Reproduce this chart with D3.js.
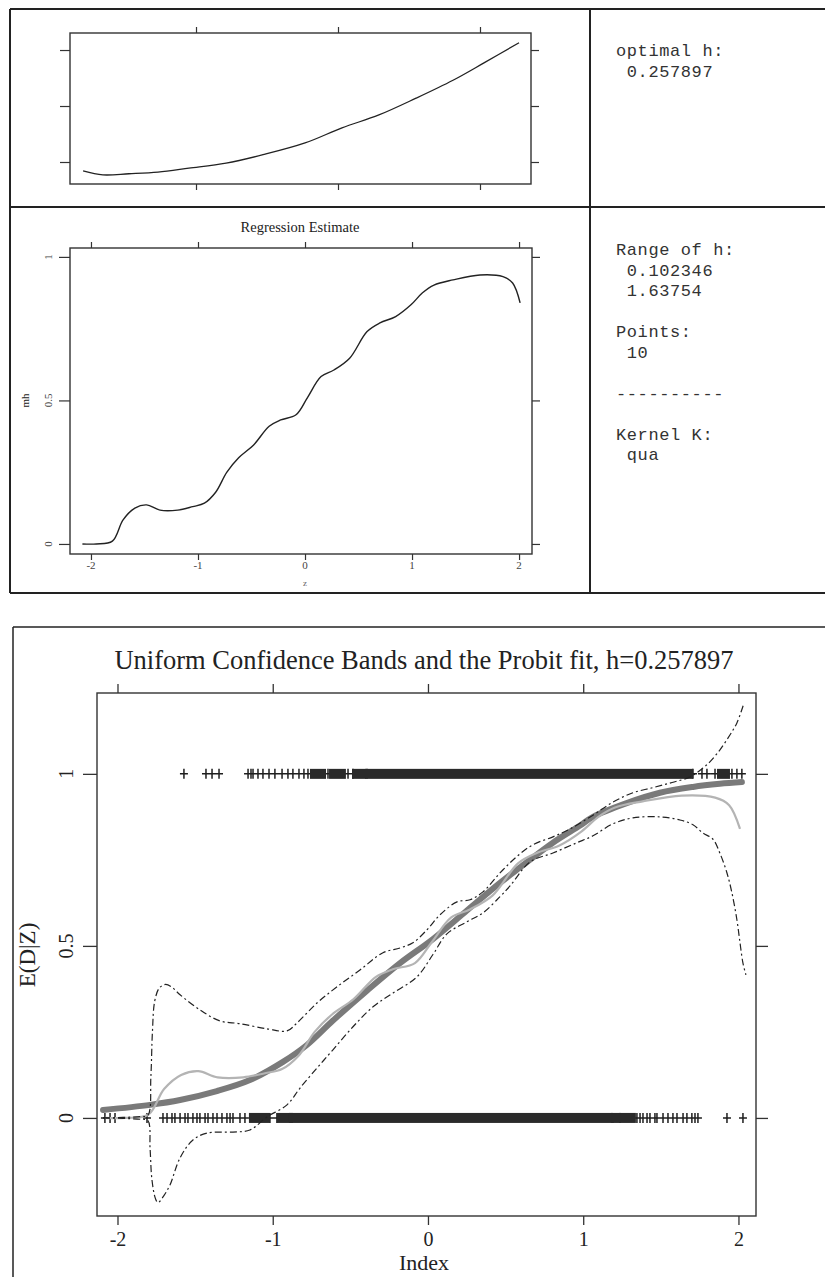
<!DOCTYPE html>
<html>
<head>
<meta charset="utf-8">
<script src="https://cdn.jsdelivr.net/npm/d3@7"></script>
<style>
  body { margin: 0; background: #fff; }
  svg { display: block; }
</style>
</head>
<body>
<svg></svg>
<script>
// ---- data ----
// top panel: cross-validation criterion over bandwidth h (no labels shown)
const cvH   = [0.102346, 0.172, 0.264, 0.366, 0.475, 0.606, 0.736, 0.884, 1.014, 1.144, 1.275, 1.405, 1.514, 1.63754];
const cvVal = [0.1584, 0.1577, 0.1579, 0.1582, 0.1589, 0.1598, 0.1613, 0.1634, 0.1661, 0.1684, 0.1714, 0.1746, 0.1777, 0.1813];
const hTicks  = [0.5, 1, 1.5];
const cvTicks = [0.16, 0.17, 0.18];

// nonparametric regression estimate mh(z)
const mhZ   = [-2.08, -1.95, -1.80, -1.70, -1.59, -1.48, -1.355, -1.19, -1.05, -0.94, -0.835, -0.73, -0.62, -0.48, -0.335, -0.227, -0.084, 0.023, 0.15, 0.27, 0.417, 0.58, 0.70, 0.847, 0.99, 1.098, 1.205, 1.383, 1.635, 1.85, 1.94, 2.01];
const mhVal = [0, 0, 0.01, 0.084, 0.125, 0.136, 0.118, 0.118, 0.13, 0.142, 0.18, 0.25, 0.30, 0.345, 0.41, 0.432, 0.45, 0.51, 0.583, 0.606, 0.647, 0.74, 0.77, 0.792, 0.833, 0.875, 0.902, 0.92, 0.937, 0.931, 0.909, 0.84];

// probit fit
const probitZ   = [-2.093, -1.79, -1.597, -1.36, -1.147, -0.934, -0.78, -0.612, -0.393, -0.18, 0.032, 0.251, 0.464, 0.593, 0.805, 0.98, 1.063, 1.28, 1.494, 1.707, 1.88, 2.022];
const probitVal = [0.023, 0.038, 0.052, 0.078, 0.11, 0.163, 0.212, 0.283, 0.37, 0.45, 0.52, 0.603, 0.683, 0.728, 0.80, 0.85, 0.875, 0.915, 0.945, 0.962, 0.971, 0.976];

// uniform confidence bands
const upperZ   = [-2.093, -1.85, -1.804, -1.785, -1.775, -1.76, -1.73, -1.69, -1.65, -1.597, -1.469, -1.34, -1.211, -1.037, -0.908, -0.844, -0.715, -0.586, -0.438, -0.29, -0.18, -0.097, -0.006, 0.077, 0.187, 0.271, 0.354, 0.464, 0.573, 0.676, 0.805, 0.915, 1.063, 1.192, 1.32, 1.449, 1.573, 1.688, 1.771, 1.816, 1.881, 1.945, 1.99, 2.03];
const upperVal = [0.0, 0.004, 0.008, 0.12, 0.25, 0.34, 0.378, 0.388, 0.38, 0.358, 0.314, 0.282, 0.274, 0.259, 0.253, 0.276, 0.334, 0.381, 0.43, 0.48, 0.494, 0.509, 0.547, 0.59, 0.628, 0.634, 0.657, 0.712, 0.76, 0.794, 0.817, 0.84, 0.88, 0.918, 0.945, 0.96, 0.975, 0.991, 1.017, 1.035, 1.07, 1.113, 1.148, 1.198];
const lowerZ   = [-2.093, -1.85, -1.804, -1.79, -1.778, -1.755, -1.739, -1.70, -1.662, -1.597, -1.514, -1.424, -1.256, -1.147, -1.037, -0.908, -0.824, -0.715, -0.612, -0.483, -0.354, -0.225, -0.071, 0.032, 0.122, 0.251, 0.354, 0.464, 0.53, 0.657, 0.805, 0.96, 1.063, 1.192, 1.32, 1.494, 1.623, 1.707, 1.771, 1.836, 1.88, 1.926, 1.958, 1.99, 2.01, 2.029, 2.048];
const lowerVal = [0.0, -0.004, -0.008, -0.09, -0.18, -0.235, -0.246, -0.225, -0.195, -0.116, -0.064, -0.044, -0.041, -0.035, 0.003, 0.038, 0.087, 0.145, 0.198, 0.265, 0.323, 0.363, 0.41, 0.475, 0.535, 0.57, 0.596, 0.643, 0.675, 0.744, 0.77, 0.80, 0.82, 0.855, 0.872, 0.875, 0.866, 0.852, 0.828, 0.81, 0.77, 0.712, 0.654, 0.576, 0.509, 0.45, 0.416];

// observed responses D (index values); dense runs given as [from, to]
const onesSparse  = [-1.572, -1.430, -1.391, -1.346, -1.159, -1.140, -1.127, -1.095, -1.063, -1.024, -0.986, -0.940, -0.902, -0.870, -0.831, -0.799, -0.773, -0.644, -0.515, -0.483, -0.393, 1.707, 1.765, 1.797, 1.849, 1.958, 1.990, 2.022];
const onesDense   = [[-0.741, -0.676], [-0.618, -0.548], [-0.470, -0.419], [-0.386, 1.688], [1.881, 1.926]];
const zerosSparse = [-2.081, -2.048, -2.016, -1.810, -1.707, -1.681, -1.649, -1.630, -1.597, -1.565, -1.546, -1.514, -1.488, -1.469, -1.436, -1.417, -1.385, -1.359, -1.327, -1.295, -1.275, -1.256, -1.211, -1.179, -1.018, -0.973, 1.192, 1.346, 1.366, 1.385, 1.411, 1.430, 1.462, 1.475, 1.514, 1.546, 1.578, 1.604, 1.643, 1.668, 1.700, 1.720, 1.739, 1.926, 2.029];
const zerosDense  = [[-1.134, -1.037], [-0.953, -0.889], [-0.876, 1.172], [1.198, 1.224], [1.250, 1.320]];

const indexTicks = [-2, -1, 0, 1, 2];
const probTicks  = [0, 0.5, 1];

const infoTop = ["optimal h:", " 0.257897"];
const infoMid = ["Range of h:", " 0.102346", " 1.63754", "", "Points:", " 10", "", "----------", "", "Kernel K:", " qua"];

const mainTitle = "Uniform Confidence Bands and the Probit fit, h=0.257897";

// ---- drawing ----
const width = 825, height = 1277;
const svg = d3.select("svg").attr("width", width).attr("height", height);
const ink = "#222";
const serif = "'Liberation Serif', 'Times New Roman', serif";
const mono = "'Liberation Mono', 'Courier New', monospace";

const pairs = (xs, ys) => xs.map((x, i) => [x, ys[i]]);

// panel frames
const frames = svg.append("g").attr("stroke", ink).attr("stroke-width", 2).attr("fill", "none");
frames.append("line").attr("x1", 10).attr("x2", width).attr("y1", 9).attr("y2", 9);
frames.append("line").attr("x1", 10).attr("x2", width).attr("y1", 207).attr("y2", 207);
frames.append("line").attr("x1", 10).attr("x2", width).attr("y1", 593).attr("y2", 593);
frames.append("line").attr("x1", 10).attr("x2", 10).attr("y1", 9).attr("y2", 593);
frames.append("line").attr("x1", 590).attr("x2", 590).attr("y1", 9).attr("y2", 593);
frames.append("line").attr("x1", 13).attr("x2", width).attr("y1", 627).attr("y2", 627).attr("stroke-width", 1.5);
frames.append("line").attr("x1", 13).attr("x2", 13).attr("y1", 627).attr("y2", height).attr("stroke-width", 1.5);

function box(g, x, y) {
  const [x0, x1] = x.range(), [y0, y1] = y.range();
  g.append("rect")
    .attr("x", x0).attr("y", y1).attr("width", x1 - x0).attr("height", y0 - y1)
    .attr("fill", "none").attr("stroke", "#333").attr("stroke-width", 1.4);
}

function plainAxes(g, x, y, xt, yt, len) {
  const [x0, x1] = x.range(), [y0, y1] = y.range();
  const ax = [
    [d3.axisBottom(x).tickValues(xt), y0],
    [d3.axisTop(x).tickValues(xt), y1]
  ];
  ax.forEach(([a, pos]) => {
    const s = g.append("g").attr("transform", `translate(0,${pos})`)
      .call(a.tickSize(len.x).tickFormat(""));
    s.select(".domain").remove();
  });
  const ay = [
    [d3.axisLeft(y).tickValues(yt), x0, len.l],
    [d3.axisRight(y).tickValues(yt), x1, len.r]
  ];
  ay.forEach(([a, pos, l]) => {
    const s = g.append("g").attr("transform", `translate(${pos},0)`)
      .call(a.tickSize(l).tickFormat(""));
    s.select(".domain").remove();
  });
  g.selectAll(".tick line").attr("stroke", "#333").attr("stroke-width", 1.2);
}

// ---- top panel: CV curve ----
{
  const x = d3.scaleLinear().domain([0.0563, 1.6796]).range([70, 531]);
  const y = d3.scaleLinear().domain([0.15607, 0.18304]).range([184, 33]);
  const g = svg.append("g");
  plainAxes(g, x, y, hTicks, cvTicks, { x: 6, l: 10, r: 8 });
  box(g, x, y);
  g.append("path")
    .datum(pairs(cvH, cvVal))
    .attr("fill", "none").attr("stroke", ink).attr("stroke-width", 1.3)
    .attr("d", d3.line().x(d => x(d[0])).y(d => y(d[1])).curve(d3.curveCatmullRom));
}

// ---- info text ----
function info(lines, top) {
  svg.append("g")
    .selectAll("text").data(lines).join("text")
    .attr("x", 616).attr("y", (d, i) => top + i * 20.5)
    .style("white-space", "pre")
    .attr("font-family", mono).attr("font-size", 17).attr("letter-spacing", 0.6)
    .attr("fill", "#333")
    .text(d => d);
}
info(infoTop, 56);
info(infoMid, 255);

// ---- middle panel: regression estimate ----
{
  const x = d3.scaleLinear().domain([-2.196, 2.121]).range([70, 532]);
  const y = d3.scaleLinear().domain([-0.035, 1.031]).range([554, 248]);
  const g = svg.append("g");
  plainAxes(g, x, y, indexTicks, probTicks, { x: 6, l: 11, r: 8 });
  box(g, x, y);

  g.append("text").attr("x", 300).attr("y", 232).attr("text-anchor", "middle")
    .attr("font-family", serif).attr("font-size", 14.5).attr("fill", ink)
    .text("Regression Estimate");

  g.selectAll(".xl").data(indexTicks).join("text")
    .attr("x", d => x(d)).attr("y", 569).attr("text-anchor", "middle")
    .attr("font-family", serif).attr("font-size", 11).attr("fill", "#444")
    .text(d => String(d));
  g.selectAll(".yl").data(probTicks).join("text")
    .attr("transform", d => `translate(52,${y(d)}) rotate(-90)`)
    .attr("text-anchor", "middle")
    .attr("font-family", serif).attr("font-size", 11).attr("fill", "#444")
    .text(d => String(d));
  g.append("text").attr("x", x(0)).attr("y", 586).attr("text-anchor", "middle")
    .attr("font-family", serif).attr("font-size", 9).attr("fill", "#666").text("z");
  g.append("text").attr("transform", `translate(29,${y(0.5)}) rotate(-90)`)
    .attr("text-anchor", "middle")
    .attr("font-family", serif).attr("font-size", 11).attr("fill", ink).text("mh");

  g.append("path")
    .datum(pairs(mhZ, mhVal))
    .attr("fill", "none").attr("stroke", ink).attr("stroke-width", 1.4)
    .attr("d", d3.line().x(d => x(d[0])).y(d => y(d[1])).curve(d3.curveCatmullRom));
}

// ---- bottom panel: confidence bands and probit fit ----
{
  const x = d3.scaleLinear().domain([-2.132, 2.113]).range([97, 756]);
  const y = d3.scaleLinear().domain([-0.285, 1.235]).range([1216, 693]);
  const g = svg.append("g");

  g.append("text").attr("x", 424).attr("y", 669).attr("text-anchor", "middle")
    .attr("font-family", serif).attr("font-size", 26.5).attr("fill", ink)
    .text(mainTitle);

  // ticks
  const bx = g.append("g").attr("transform", "translate(0,1216)")
    .call(d3.axisBottom(x).tickValues(indexTicks).tickSize(9).tickFormat(d => String(d)));
  bx.select(".domain").remove();
  bx.selectAll("text").attr("dy", null).attr("y", 30)
    .attr("font-family", serif).attr("font-size", 20).attr("fill", ink);
  const tx = g.append("g").attr("transform", "translate(0,693)")
    .call(d3.axisTop(x).tickValues(indexTicks).tickSize(9).tickFormat(""));
  tx.select(".domain").remove();
  const ly = g.append("g").attr("transform", "translate(97,0)")
    .call(d3.axisLeft(y).tickValues(probTicks).tickSize(14).tickFormat(""));
  ly.select(".domain").remove();
  const ry = g.append("g").attr("transform", "translate(756,0)")
    .call(d3.axisRight(y).tickValues(probTicks).tickSize(12).tickFormat(""));
  ry.select(".domain").remove();
  g.selectAll(".tick line").attr("stroke", "#333").attr("stroke-width", 1.3);

  g.selectAll(".yl").data(probTicks).join("text")
    .attr("transform", d => `translate(73,${y(d)}) rotate(-90)`)
    .attr("text-anchor", "middle")
    .attr("font-family", serif).attr("font-size", 20).attr("fill", ink)
    .text(d => String(d));

  g.append("text").attr("x", 424).attr("y", 1270).attr("text-anchor", "middle")
    .attr("font-family", serif).attr("font-size", 22).attr("fill", ink).text("Index");
  g.append("text").attr("transform", `translate(35,955) rotate(-90)`)
    .attr("text-anchor", "middle")
    .attr("font-family", serif).attr("font-size", 23).attr("fill", ink).text("E(D|Z)");

  // observations as plus marks
  const rows = [[onesSparse, onesDense, 1], [zerosSparse, zerosDense, 0]];
  rows.forEach(([sparse, dense, v]) => {
    const yy = y(v);
    g.append("path")
      .attr("d", sparse.map(z => `M${x(z) - 4},${yy}H${x(z) + 4}M${x(z)},${yy - 5}V${yy + 5}`).join(""))
      .attr("stroke", "#1e1e1e").attr("stroke-width", 1.5).attr("fill", "none");
    g.selectAll(null).data(dense).join("rect")
      .attr("x", d => x(d[0]) - 3).attr("width", d => x(d[1]) - x(d[0]) + 6)
      .attr("y", yy - 5).attr("height", 10)
      .attr("fill", "#2a2a2a");
  });

  const line = d3.line().x(d => x(d[0])).y(d => y(d[1])).curve(d3.curveCatmullRom);

  g.append("path").datum(pairs(probitZ, probitVal))
    .attr("fill", "none").attr("stroke", "#7a7a7a").attr("stroke-width", 6)
    .attr("stroke-linecap", "round").attr("d", line);

  g.append("path").datum(pairs(mhZ, mhVal))
    .attr("fill", "none").attr("stroke", "#b4b4b4").attr("stroke-width", 2.2)
    .attr("d", line);

  [pairs(upperZ, upperVal), pairs(lowerZ, lowerVal)].forEach(band => {
    g.append("path").datum(band)
      .attr("fill", "none").attr("stroke", ink).attr("stroke-width", 1.2)
      .attr("stroke-dasharray", "7,3,2,3").attr("d", line);
  });

  box(g, x, y);
}
</script>
</body>
</html>
